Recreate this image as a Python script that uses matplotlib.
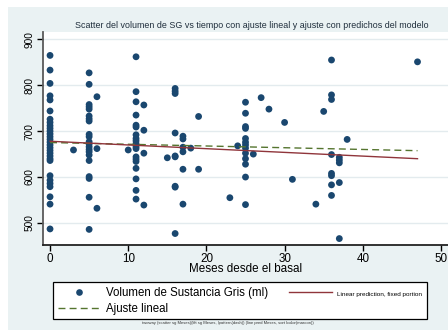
import numpy as np
import matplotlib
matplotlib.use("Agg")
import matplotlib.pyplot as plt
from matplotlib.patches import Rectangle
from matplotlib.lines import Line2D

plt.rcParams['font.family'] = ['Liberation Sans', 'DejaVu Sans']

# months since baseline and grey-matter volume
meses_0 = [0] * 29
sg_0 = [865, 833, 804, 777, 768, 744, 726, 719, 712, 706, 700, 694, 688, 682,
        676, 670, 664, 658, 652, 646, 640, 636, 603, 593, 586, 579, 557, 541, 487]
meses_5 = [5] * 21
sg_5 = [827, 802, 758, 753, 748, 733, 727, 722, 693, 688, 677, 672, 666, 660,
        655, 648, 636, 601, 597, 556, 486]
meses_11 = [11] * 19
sg_11 = [862, 786, 764, 735, 713, 709, 692, 684, 679, 673, 666, 662, 644, 639,
         634, 619, 596, 571, 552]
meses_16 = [16] * 9
sg_16 = [793, 787, 782, 696, 646, 644, 580, 578, 477]
meses_17 = [17] * 6
sg_17 = [689, 683, 665, 655, 617, 541]
meses_25 = [25] * 13
sg_25 = [763, 739, 710, 706, 684, 676, 670, 663, 652, 640, 628, 600, 540]
meses_36 = [36] * 8
sg_36 = [855, 779, 769, 649, 608, 603, 583, 560]
meses_37 = [37] * 5
sg_37 = [643, 637, 631, 588, 466]
meses_sueltos = [3, 6, 6, 6, 10, 12, 12, 12, 12, 15, 18, 19, 19, 23, 24, 26,
                 27, 28, 30, 31, 34, 35, 38, 47]
sg_sueltos = [659, 775, 662, 532, 659, 757, 702, 652, 539, 642, 663, 732, 617,
              555, 668, 650, 773, 748, 719, 595, 541, 743, 682, 851]

# mixed model fixed-portion prediction (endpoints)
pred_meses = [0, 47]
pred_sg = [678, 640]

meses = np.array(meses_0 + meses_5 + meses_11 + meses_16 + meses_17 + meses_25
                 + meses_36 + meses_37 + meses_sueltos, dtype=float)
sg = np.array(sg_0 + sg_5 + sg_11 + sg_16 + sg_17 + sg_25 + sg_36 + sg_37
              + sg_sueltos, dtype=float)

navy = '#1A476F'
maroon = '#90353B'
green = '#55752F'
bluish = '#EAF2F3'

fig = plt.figure(figsize=(4.48, 3.30), dpi=100)
fig.patch.set_facecolor('white')
fig.patches.append(Rectangle((8 / 448, 0), 1, 1 - 7 / 330, transform=fig.transFigure,
                             facecolor=bluish, edgecolor='none', zorder=-10))

ax = fig.add_axes([43 / 448, 1 - 245 / 330, 1 - 43 / 448, (245 - 32) / 330])
ax.set_facecolor('white')

ax.scatter(meses, sg, s=24, color=navy, edgecolors='none', zorder=3)

b, a = np.polyfit(meses, sg, 1)
xs = np.array([meses.min(), meses.max()])
ax.plot(xs, a + b * xs, color=green, lw=1.0, dashes=(5, 3), zorder=4)
ax.plot(pred_meses, pred_sg, color=maroon, lw=1.0, zorder=4)

ax.set_xlim(-0.9, 50.9)
ax.set_ylim(452, 916)
ax.set_xticks([0, 10, 20, 30, 40, 50])
ax.set_yticks([500, 600, 700, 800, 900])
ax.grid(axis='y', color='#E3EBEE', lw=1.0)
ax.set_axisbelow(True)

for s in ['top', 'right']:
    ax.spines[s].set_visible(False)
ax.spines['left'].set_color('#5a5a5a')
ax.spines['left'].set_linewidth(1.3)
ax.spines['bottom'].set_color('#222222')
ax.spines['bottom'].set_linewidth(1.3)
ax.tick_params(axis='y', length=4, width=1, pad=2, labelsize=7.3)
ax.tick_params(axis='x', length=4, width=1, pad=1.5, labelsize=8.4)
for t in ax.get_yticklabels():
    t.set_rotation(90)
    t.set_va('center')

ax.set_xlabel('Meses desde el basal', fontsize=8.4, labelpad=-1)

fig.text(252 / 448, 1 - 25 / 330,
         'Scatter del volumen de SG vs tiempo con ajuste lineal y ajuste con predichos del modelo',
         ha='center', va='center', fontsize=6.4, color='#1e2d3b')

handles = [
    Line2D([], [], ls='none', marker='o', ms=4.8, color=navy, markeredgewidth=0),
    Line2D([], [], color=green, lw=1.0, dashes=(5, 3)),
    Line2D([], [], color=maroon, lw=1.0),
]
labels = ['Volumen de Sustancia Gris (ml)', 'Ajuste lineal',
          'Linear prediction, fixed portion']
leg = fig.legend(handles, labels, ncol=2, loc='upper left',
                 bbox_to_anchor=(53 / 448, 1 - 282 / 330), bbox_transform=fig.transFigure,
                 fontsize=8.3, handlelength=3.7, handletextpad=0.5, columnspacing=1.8,
                 labelspacing=0.35, borderpad=0.4, borderaxespad=0, fancybox=False,
                 framealpha=1, edgecolor='black')
leg.get_frame().set_linewidth(0.9)
leg.get_texts()[2].set_fontsize(4.6)

fig.text(228 / 448, 1 - 323 / 330,
         'twoway (scatter sg Meses)(lfit sg Meses, lpattern(dash)) (line pred Meses, sort lcolor(maroon))',
         ha='center', va='center', fontsize=3, color='#333333')

fig.savefig('out.png', dpi=100)
